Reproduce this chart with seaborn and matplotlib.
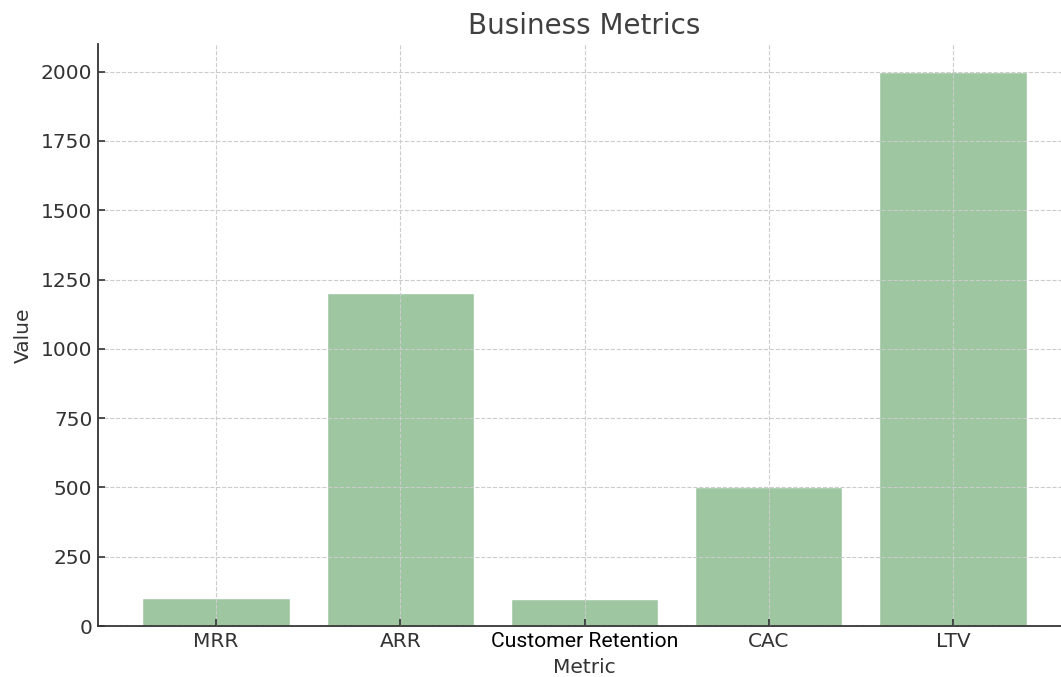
import matplotlib
matplotlib.use("Agg")
import matplotlib.pyplot as plt
import seaborn as sns
import pandas as pd

categories = ["MRR", "ARR", "Customer Retention", "CAC", "LTV"]
values = [100, 1200, 97, 500, 2000]

sns.set_style("ticks")
plt.rcParams['font.family'] = ['DejaVu Sans']

df = pd.DataFrame({"Metric": categories, "Value": values})

fig = plt.figure(figsize=(10.61, 6.77), dpi=100)
ax = fig.add_axes([98/1061, 1 - 626/677, (1071-98)/1061, (626-44)/677])

sns.barplot(data=df, x="Metric", y="Value", color="#9dc6a1", saturation=1,
            width=0.8, ax=ax, zorder=1)

ax.set_ylim(0, 2100)
ax.set_xlim(-0.64, 4.64)
ax.set_yticks([0, 250, 500, 750, 1000, 1250, 1500, 1750, 2000])
ax.set_axisbelow(False)
ax.grid(True, linestyle="--", color="#cccccc", linewidth=0.8, zorder=2.5)

for s in ["top", "right"]:
    ax.spines[s].set_visible(False)
for s in ["left", "bottom"]:
    ax.spines[s].set_color("#333333")
    ax.spines[s].set_linewidth(1.3)

ax.tick_params(axis="both", direction="in", labelsize=14.5, colors="#333333",
               length=5, width=1.2, pad=4)
ax.tick_params(axis="x", pad=4.5)
for lbl in ax.get_xticklabels():
    if lbl.get_text() == "Customer Retention":
        lbl.set_fontfamily(["Roboto", "DejaVu Sans"])
        lbl.set_color("black")
        lbl.set_fontsize(15.2)

ax.set_xlabel("Metric", fontsize=14.5, color="#333333", labelpad=5)
ax.set_ylabel("Value", fontsize=14.5, color="#333333", labelpad=6)
ax.set_title("Business Metrics", fontsize=20, color="#404040", pad=7)

fig.savefig("out.png", dpi=100)
